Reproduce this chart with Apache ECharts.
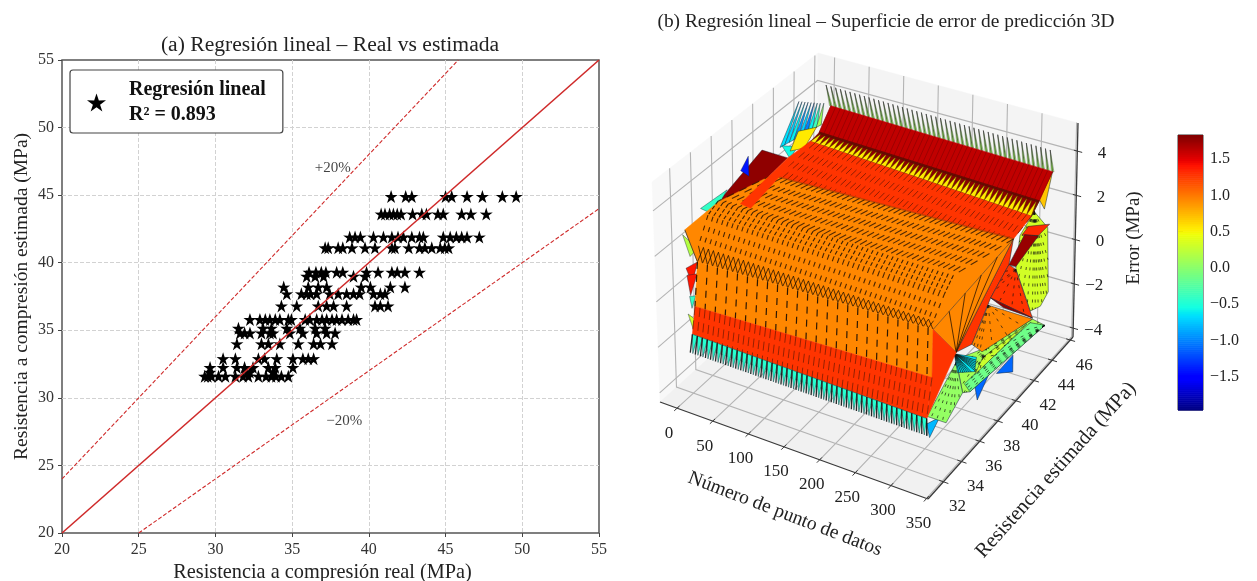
<!DOCTYPE html>
<html><head><meta charset="utf-8">
<style>html,body{margin:0;padding:0;background:#fff}#c{width:1257px;height:581px}#c canvas{filter:blur(.4px)}</style>
<script src="https://cdn.jsdelivr.net/npm/echarts@6/dist/echarts.min.js"></script>
</head><body><div id="c"></div>
<script>
const FONT='"Liberation Serif"';
// ---------- panel (a) data ----------
const idealLine=[[20,20],[55,55]];
const plus20Line=[[20,24],[45.83,55]];
const minus20Line=[[25,20],[55,44]];
const estimatedLevels=[44.9,43.6,41.9,41.1,39.3,39.0,38.2,37.7,36.8,35.8,35.15,34.8,34.0,32.9,32.25,31.9,31.6];
const realByLevel=[
[41.45,42.4,42.8,45.0,45.4,46.4,47.4,48.7,49.6],
[40.8,41.05,41.35,41.6,41.85,42.1,42.85,43.45,43.75,44.5,44.85,46.05,46.65,47.65],
[38.75,39.1,39.45,40.3,40.95,41.5,41.9,42.25,42.8,43.3,43.55,44.85,45.3,45.7,46.05,46.4,47.2],
[37.15,37.35,38.0,38.3,38.9,39.75,40.4,41.5,41.7,42.6,43.3,43.65,44.1,44.65,44.95,45.2],
[36.1,36.55,36.9,37.2,37.9,38.3,39.85,40.6,41.5,41.85,42.35,43.3],
[35.95,36.5,37.05,39.0,39.75],
[34.45,36.05,36.7,37.25,39.5,40.1,41.4,42.35],
[34.65,35.6,35.95,36.2,36.6,37.45,38,38.55,39,39.4,40.3,40.75,41.05],
[34.3,35.3,36.7,37.25,37.7,38.55,40.4,40.75,41.25],
[32.25,32.9,33.25,33.55,33.9,34.2,34.75,34.95,35.85,36.15,36.6,36.95,37.25,37.6,37.9,38.25,38.65,39,39.2],
[31.5,33.1,33.65,34.65,35.5,36.5,37.15],
[31.6,31.9,32.25,33,33.55,33.75,34.85,35.7,36.6,37.25,37.8],
[31.4,33,33.45,34.2,35.4,36.4,36.85,37.6],
[30.5,31.3,32.8,33.2,34,35.05,35.7,36.05,36.4],
[29.65,30.5,31.4,31.9,32.45,33.45,33.9,35.05],
[29.65,32.05,32.25,33.75],
[29.3,29.5,29.75,30.2,30.65,31.3,31.8,32.15,32.8,33.3,33.65,33.95,34.3,34.75]
];
const starData=[];estimatedLevels.forEach((y,i)=>realByLevel[i].forEach(x=>starData.push([x,y])));
const STAR='path://M50 0L61.8 35.5L97.6 34.5L68 56L79.4 90.5L50 69L20.6 90.5L32 56L2.4 34.5L38.2 35.5Z';

// ---------- panel (b) data ----------
const xTicks3=[0,50,100,150,200,250,300,350];
const yTicks3=[32,34,36,38,40,42,44,46];
const zTicks3=[-4,-2,0,2,4];
const colorTicks=[-1.5,-1,-0.5,0,0.5,1,1.5];
const colorMin=-1.955,colorMax=1.83;
const meshX=[0,7,14,21,28,35,42,49,56,63,70,77,84,91,98,105,112,119,126,133,140,147,154,161,168,175,182,189,196,203,210,217,224,231,238,245,252,259,266,273,280,287,294,301,308,315,322,329];
// error-surface profile [estimated strength, error] at first and last data point
const profile={
 tip:[[45.5,4.3],[45.1,4.35]],
 top:[[46.0,3.15],[45.4,3.25]],
 topLow:[[44.85,2.35],[44,2.5]],
 ridge:[[44,2.28],[43.2,2.17]],
 fold:[[40.18,2.19],[41.3,1.95]],
 stripeA:[[34.9,3.0],[34.9,2.95]],
 stripeB:[[33.9,2.75],[34.0,2.55]],
 edge:[[31.63,2.93],[32.6,2.1]],
 hatch:[[32.9,1.76],[32.8,1.85]],
 lip:[[32.76,1.1],[32.75,1.5]],
 lower:[[32.4,-0.73],[32.6,-0.48]],
 cyanTop:[[32.06,-1.83],[32,-1.97]],
 cyanLow:[[31.8,-2.54],[32,-2.7]]
};
const bandError={tip:0.1,top:1.62,gap:1.8,yellow:0.55,ridge:1.28,main:0.95,lower:0.95,red:1.28,cyan:-0.45};
const lastPoint=329;
// loose facets behind the surface's far end: e = error colour, p = [data point, strength, error]
const farFacets=[
 {e:-0.8,p:[[329,32,-2.2],[329,33.4,-2.5],[329,32.3,-2.9]]},
 {e:-1.1,p:[[329,39.6,-3.25],[329,41.4,-3.23],[329,41.4,-3.97]]},
 {e:-1.1,p:[[329,37.2,-2.7],[329,38.9,-2.87],[329,37.5,-3.5]]},
 {e:0.12,p:[[329,38.5,-1.64],[329,43.5,-2.55],[329,44.9,-3.45],[329,36.7,-2.8],[329,35.9,-2.5],[329,35.2,-0.77]],dash:1},
 {e:-0.12,p:[[329,44.9,-3.45],[329,43.25,-2.6],[329,38.3,-2.3],[329,36.1,-2.2],[329,36.7,-2.8]],dash:1},
 {e:0.3,p:[[329,38.1,-1.9],[329,42.9,-2.5],[329,40,-2.4],[329,37.2,-2.28]],dash:1},
 {e:0.05,p:[[329,35.2,-0.9],[329,35.9,-2.5],[329,34.1,-3.03],[329,32.05,-1.9]],dash:1},
 {e:-0.62,p:[[329,35,-0.45],[329,37.4,-1.6],[329,37.2,-2.14],[329,35.35,-1.4]],dash:2},
 {e:0.33,p:[[329,43.5,2.25],[329,45.0,0.9],[329,45.2,-2.07],[329,44.35,-2.35],[329,43.25,-2.08],[329,41.6,0.5],[329,42,1.8]],dash:1},
 {e:1.32,p:[[329,45.2,0.97],[329,44,0.97],[329,42.2,1.74],[329,42.9,1.84]]},
 {e:1.75,p:[[329,42.5,1.64],[329,44,0.95],[329,41.6,0.6],[329,40.85,1.0]]},
 {e:1.28,p:[[329,41.3,1.95],[329,40.85,1.0],[329,38.9,0.35],[329,36.9,-0.83],[329,35.2,-0.47]]},
 {e:0.95,p:[[329,38.65,0.14],[329,43.5,-2.55],[329,38,-1.62],[329,36.9,-0.83]],dash:1},
 {e:1.28,p:[[329,41.6,0.47],[329,43.5,-2.5],[329,38.9,0.35],[329,40.85,1.0]],dash:1},
 {e:1.78,p:[[329,38.9,0.35],[329,43.5,-2.5],[329,40.3,-0.66]]},
 {e:0.7,p:[[329,44,2.6],[329,45.4,3.25],[329,44.6,1.9]]}
];
const nearFacets=[
 {e:1.78,p:[[0,39.24,3.68],[0,41.76,2.38],[0,37.07,2.08],[0,34.94,2.96]]},
 {e:-0.55,p:[[0,41.2,3.14],[0,42.8,2.5],[0,41.95,2.3]]},
 {e:-0.4,p:[[0,33.2,3.3],[0,35.8,3.17],[0,34.4,2.6]]},
 {e:-1.4,p:[[0,37.15,3.53],[0,37.9,3.9],[0,37.95,2.98]]},
 {e:0.2,p:[[0,31.4,2.8],[0,32.06,1.6],[0,32.8,1.67]]},
 {e:1.4,p:[[0,31.63,1.24],[0,32.76,1.1],[0,32.2,0.35]]},
 {e:1.4,p:[[0,31.7,0.9],[0,32.7,0.6],[0,32.0,-0.1]]},
 {e:-0.4,p:[[0,31.9,-0.1],[0,32.5,-0.3],[0,32.1,-0.7]]},
 {e:0.3,p:[[0,31.7,-0.8],[0,32.4,-1.3],[0,32.15,-1.62]]}
];
const redWedge=[[0,41.76,2.38],[0,44,2.28],[0,40.68,1.81],[0,38.07,1.5],[0,37.07,2.08]];
const yellowPatch=[[0,42.8,3.2],[0,44.6,2.7],[0,43.4,2.2],[0,42,2.6]];
const needleBaseY=[41,41.45,41.9,42.35,42.8,43.25,43.7,44.15,44.57];
const needleBaseE=[3.14,3.09,3.03,2.98,2.92,2.87,2.81,2.76,2.7];
const needleTipY=[42.85,43.15,43.45,43.75,44.05,44.35,44.65,44.95,45.3];
const needleTipE=[4.54,4.42,4.29,4.17,4.04,3.92,3.79,3.67,3.54];
const needleColour=[-0.65,-0.7,-0.6,-0.9,-0.7,-1.0,-0.6,-0.35,0.1];

// ---------- 3D view ----------
const box={x:[-24,352],y:[30.3,46.3],z:[-4.4,5.27]};
const view={ // screen plane position of the box corners
 c000:[660,402],c100:[928,499],c110:[1073,337],c010:[815,262],
 c001:[652,182],c101:[926,268],c111:[1078,123],c011:[818,53]
};
function project(x,y,z){
 const u=(x-box.x[0])/(box.x[1]-box.x[0]),v=(y-box.y[0])/(box.y[1]-box.y[0]),w=(z-box.z[0])/(box.z[1]-box.z[0]);
 const out=[0,0];
 for(let k=0;k<2;k++){
  const b=(1-u)*(1-v)*view.c000[k]+u*(1-v)*view.c100[k]+u*v*view.c110[k]+(1-u)*v*view.c010[k];
  const t=(1-u)*(1-v)*view.c001[k]+u*(1-v)*view.c101[k]+u*v*view.c111[k]+(1-u)*v*view.c011[k];
  out[k]=b*(1-w)+t*w;
 }
 return out;
}
function lerp(a,b,t){return a+(b-a)*t}
function jet(e){
 const f=Math.min(1,Math.max(0,(e-colorMin)/(colorMax-colorMin)));
 const seg=(p)=>{for(let i=0;i<p.length-1;i++){if(f<=p[i+1][0])return lerp(p[i][1],p[i+1][1],(f-p[i][0])/(p[i+1][0]-p[i][0]))}return p[p.length-1][1]};
 const r=seg([[0,0],[.35,0],[.66,1],[.89,1],[1,.5]]);
 const g=seg([[0,0],[.125,0],[.375,1],[.64,1],[.91,0],[1,0]]);
 const b=seg([[0,.5],[.11,1],[.34,1],[.65,0],[1,0]]);
 return 'rgb('+Math.round(r*255)+','+Math.round(g*255)+','+Math.round(b*255)+')';
}
function P(name,x){const t=x/lastPoint,p=profile[name];return [x,lerp(p[0][0],p[1][0],t),lerp(p[0][1],p[1][1],t)]}
const scene=[];
function poly(pts,fill,o){scene.push(Object.assign({k:'poly',pts,fill},o||{}))}
function line(pts,stroke,lw,dash,op){scene.push({k:'line',pts,stroke,lw,dash,op})}
function text(p,str,dx,dy,o){scene.push(Object.assign({k:'text',p,str,dx,dy},o||{}))}
function band(a,b,e,o){poly([P(a,0),P(a,lastPoint),P(b,lastPoint),P(b,0)],jet(e),o)}
function rungs(a,b,step,stroke,lw,dash,op){meshX.forEach((x,i)=>{if(i%step===0)line([P(a,x),P(b,x)],stroke,lw,dash,op)})}
function cross(a,b,stroke,lw,op){meshX.forEach((x,i)=>{if(i>=meshX.length-1)return;line([P(a,x),P(b,x+7)],stroke,lw,null,op);line([P(a,x+7),P(b,x)],stroke,lw,null,op)})}
function facet(f,lw){poly(f.p,jet(f.e),{stroke:'#123',lw:lw||.5});
 if(f.dash){const c=f.p[0],n=f.p.length,st=f.dash===2?.12:.3,da=f.dash===2?null:[3,5];for(let i=1;i<n-1;i++){const q=f.p[i],r=f.p[i+1];for(let s=.2;s<1;s+=st){line([c,[lerp(q[0],r[0],s),lerp(q[1],r[1],s),lerp(q[2],r[2],s)]],'#111',.8,da,.85)}}}
}
// walls, floor
const X=box.x,Y=box.y,Z=box.z;
poly([[X[0],Y[0],Z[0]],[X[0],Y[1],Z[0]],[X[0],Y[1],Z[1]],[X[0],Y[0],Z[1]]],'#f8f8f8');
poly([[X[0],Y[1],Z[0]],[X[1],Y[1],Z[0]],[X[1],Y[1],Z[1]],[X[0],Y[1],Z[1]]],'#f4f4f4');
poly([[X[0],Y[0],Z[0]],[X[1],Y[0],Z[0]],[X[1],Y[1],Z[0]],[X[0],Y[1],Z[0]]],'#f1f1f1');
const GR='#b4b4b4';
xTicks3.forEach(x=>{line([[x,Y[0],Z[0]],[x,Y[1],Z[0]],[x,Y[1],Z[1]]],GR,1.1)});
yTicks3.forEach(y=>{line([[X[1],y,Z[0]],[X[0],y,Z[0]],[X[0],y,Z[1]]],GR,1.1)});
zTicks3.forEach(z=>{line([[X[0],Y[0],z],[X[0],Y[1],z],[X[1],Y[1],z]],GR,1.1)});
// axes
const AX='#3a3a3a';
line([[X[0],Y[0],Z[0]],[X[1],Y[0],Z[0]]],AX,1.3);
line([[X[1],Y[0],Z[0]],[X[1],Y[1],Z[0]]],AX,1.3);
line([[X[1],Y[1],Z[0]],[X[1],Y[1],Z[1]]],AX,1.3);
xTicks3.forEach(x=>{line([[x,Y[0]+.25,Z[0]],[x,Y[0]-.3,Z[0]]],AX,1);text([x,Y[0],Z[0]],String(x),-8,25)});
yTicks3.forEach(y=>{line([[X[1]-6,y,Z[0]],[X[1]+7,y,Z[0]]],AX,1);text([X[1],y,Z[0]],String(y),14,25)});
zTicks3.forEach(z=>{line([[X[1]-5,Y[1],z],[X[1]+7,Y[1],z]],AX,1);text([X[1],Y[1],z],String(z).replace('-','\u2212'),29,2,{align:'right'})});
// surface, back to front
farFacets.forEach(f=>facet(f));
needleBaseY.forEach((y,i)=>{poly([[0,y,needleBaseE[i]],[0,needleTipY[i],needleTipE[i]],[0,y+.5,needleBaseE[i]-.06]],jet(needleColour[i]),{stroke:'#234',lw:.5})});
nearFacets.forEach(f=>facet(f,.4));
poly(yellowPatch,jet(bandError.yellow),{stroke:'#3a2a00',lw:.5});
meshX.forEach(x=>{const a=P('top',x),b=P('tip',x);poly([[x-2,a[1],a[2]],[x,b[1],b[2]],[x+2,a[1],a[2]]],jet(bandError.tip),{stroke:'#666',lw:.5});line([a,b],'#333',.8,null,.9)});
band('top','topLow',bandError.top);
rungs('top','topLow',1,'#7a0000',1,null,.5);
band('topLow','ridge',bandError.gap);
meshX.forEach((x,i)=>{const x2=meshX[i+1]===undefined?x:meshX[i+1];
 poly([P('ridge',x),P('topLow',(x+x2)/2),P('ridge',x2)],jet(bandError.yellow),{stroke:'#4a3000',lw:.5});});
line([P('topLow',0),P('topLow',lastPoint)],'#5a0a00',2.4,null,.8);
band('ridge','fold',bandError.ridge);
rungs('ridge','fold',1,'#6b1500',1,[8,6],.75);
poly([P('fold',0),P('fold',lastPoint),P('lip',lastPoint),P('lip',0),P('edge',0),[0,34.94,2.96]],jet(bandError.main));
poly([P('fold',lastPoint),[lastPoint,35.2,-0.47],P('lip',lastPoint)],jet(bandError.main),{stroke:'#222',lw:.5});
[.2,.4,.6,.8].forEach(t=>{const g=P('fold',lastPoint),l=P('lip',lastPoint),q=[lastPoint,35.2,-0.47];const m=[q[0],lerp(l[1],g[1],t),lerp(l[2],g[2],t)];line([m,q],'#2b1500',1,null,.8)});
line([P('fold',0),P('fold',lastPoint)],'#a03000',1.6,null,.6);
rungs('fold','stripeA',1,'#2a1400',1.1,[8,6],.8);
rungs('stripeA','stripeB',1,'#1a0d00',1.1,[4,2],.85);
rungs('stripeB','hatch',1,'#2a1400',1.1,[5,6],.85);
poly(redWedge,jet(bandError.ridge));
cross('hatch','lip','#140a00',.9,.8);
line([P('edge',0),P('lip',0)],'#333',.8);
band('lip','lower',bandError.lower);
rungs('lip','lower',2,'#1a0d00',1.2,[7,6],.9);
poly([P('lower',lastPoint),P('cyanTop',lastPoint),[lastPoint,35.2,-0.47],P('lip',lastPoint)],jet(bandError.red));
band('lower','cyanTop',bandError.red);
rungs('lower','cyanTop',1,'#401000',1,[9,5],.55);
meshX.forEach((x,i)=>{const x2=meshX[i+1]===undefined?x:meshX[i+1];
 poly([P('cyanTop',x),P('cyanLow',(x+x2)/2),P('cyanTop',x2)],jet(bandError.cyan),{stroke:'#0a3a40',lw:.5});
 line([P('cyanTop',x),P('cyanLow',x)],'#111',1.3,null,.9);
});

const option={
 animation:false,backgroundColor:'#fff',
 textStyle:{fontFamily:FONT},
 title:[
  {text:'(a) Regresi\u00f3n lineal \u2013 Real vs estimada',left:325,top:29,textAlign:'center',textStyle:{fontFamily:FONT,fontWeight:'normal',fontSize:21.6,color:'#222'}},
  {text:'(b) Regresi\u00f3n lineal \u2013 Superficie de error de predicci\u00f3n 3D',left:881,top:7,textAlign:'center',textStyle:{fontFamily:FONT,fontWeight:'normal',fontSize:19.4,color:'#222'}}
 ],
 legend:{show:true,left:70,top:70,data:[{name:'Regresi\u00f3n lineal',icon:STAR,itemStyle:{color:'#000'}}],orient:'horizontal',
  formatter:()=>'Regresi\u00f3n lineal\nR\u00b2 = 0.893',
  padding:[8,17,6,17],itemWidth:19,itemHeight:19,borderColor:'#444',borderWidth:1.2,borderRadius:3,backgroundColor:'#fff',z:20,
  selectedMode:false,
  textStyle:{fontFamily:FONT,fontWeight:'bold',fontSize:20,lineHeight:24.5,color:'#111',padding:[0,0,0,18]}},
 grid:[
  {left:62,top:60,right:658,bottom:48,show:true,borderColor:'#555',borderWidth:1.5,backgroundColor:'transparent',outerBoundsMode:'none'},
  {left:0,top:0,right:0,bottom:0,outerBoundsMode:'none'},
  {left:1178,top:135,width:25,height:275,show:true,borderColor:'#333',borderWidth:1,outerBoundsMode:'none'}
 ],
 xAxis:[
  {gridIndex:0,type:'value',min:20,max:55,interval:5,name:'Resistencia a compresi\u00f3n real (MPa)',nameLocation:'middle',nameGap:29,
   nameTextStyle:{fontFamily:FONT,fontSize:20.3,color:'#222',padding:[0,16,0,0]},
   axisLine:{show:false},axisTick:{show:true,length:4,lineStyle:{color:'#444'}},axisLabel:{fontFamily:FONT,fontSize:16,color:'#333',margin:9},
   splitLine:{show:true,showMinLine:false,showMaxLine:false,lineStyle:{type:'dashed',color:'#d2d2d2',width:1}}},
  {gridIndex:1,type:'value',min:0,max:1257,show:false},
  {gridIndex:2,type:'value',min:0,max:1,show:false}
 ],
 yAxis:[
  {gridIndex:0,type:'value',min:20,max:55,interval:5,name:'Resistencia a compresi\u00f3n estimada (MPa)',nameLocation:'middle',nameGap:30,
   nameTextStyle:{fontFamily:FONT,fontSize:19.5,color:'#222'},
   axisLine:{show:false},axisTick:{show:true,length:4,lineStyle:{color:'#444'}},axisLabel:{fontFamily:FONT,fontSize:16,color:'#333',margin:8},
   splitLine:{show:true,showMinLine:false,showMaxLine:false,lineStyle:{type:'dashed',color:'#d2d2d2',width:1}}},
  {gridIndex:1,type:'value',min:0,max:581,inverse:true,show:false},
  {gridIndex:2,type:'value',min:colorMin,max:colorMax,position:'right',
   axisLine:{show:false},splitLine:{show:false},
   axisTick:{show:true,length:5,lineStyle:{color:'#333'},customValues:colorTicks},
   axisLabel:{fontFamily:FONT,fontSize:16,color:'#222',margin:7,customValues:colorTicks,formatter:v=>v.toFixed(1).replace('-','\u2212')}}
 ],
 series:[
  {type:'scatter',name:'Regresi\u00f3n lineal',xAxisIndex:0,yAxisIndex:0,data:starData,symbol:STAR,symbolSize:13,itemStyle:{color:'#000',opacity:1},z:3,silent:true},
  {type:'line',name:'ideal',xAxisIndex:0,yAxisIndex:0,data:idealLine,showSymbol:false,lineStyle:{color:'#cf2a2a',width:1.6},z:4,silent:true},
  {type:'line',name:'+20%',xAxisIndex:0,yAxisIndex:0,data:plus20Line,showSymbol:false,lineStyle:{color:'#cf2a2a',width:1.1,type:[4,2]},z:4,silent:true},
  {type:'line',name:'-20%',xAxisIndex:0,yAxisIndex:0,data:minus20Line,showSymbol:false,lineStyle:{color:'#cf2a2a',width:1.1,type:[4,2]},z:4,silent:true},
  {type:'scatter',name:'notes',xAxisIndex:0,yAxisIndex:0,symbolSize:0,silent:true,
   data:[{value:[37.65,47.0],label:{formatter:'+20%'}},{value:[38.4,28.3],label:{formatter:'\u221220%'}}],
   label:{show:true,position:'inside',fontFamily:FONT,fontSize:15,color:'#111'}},
  {type:'custom',name:'surface',xAxisIndex:1,yAxisIndex:1,clip:false,silent:true,z:2,
   data:scene.map((m,i)=>[i,i]),encode:{x:0,y:1},
   renderItem:(params,api)=>{
    const m=scene[params.dataIndex];
    if(m.k==='text'){
     const q=api.coord(project.apply(null,m.p));
     return {type:'text',x:q[0]+m.dx,y:q[1]+m.dy,style:{text:m.str,font:'17px '+FONT,fill:'#222',align:m.align||'center',verticalAlign:'middle'}};
    }
    const pts=m.pts.map(p=>api.coord(project(p[0],p[1],p[2])));
    if(m.k==='line')return {type:'polyline',shape:{points:pts},style:{fill:'none',stroke:m.stroke,lineWidth:m.lw,lineDash:m.dash||null,opacity:m.op===undefined?1:m.op}};
    return {type:'polygon',shape:{points:pts},style:{fill:m.fill,stroke:m.stroke||m.fill,lineWidth:m.lw||.5,lineJoin:'round'}};
   }},
  {type:'custom',name:'colorbar',xAxisIndex:2,yAxisIndex:2,silent:true,
   data:Array.from({length:140},(_,i)=>[i]),encode:{y:0},
   renderItem:(params,api)=>{
    const i=params.dataIndex,st=(colorMax-colorMin)/140;
    const a=api.coord([0,colorMin+i*st]),b=api.coord([1,colorMin+(i+1)*st]);
    const c=jet(colorMin+(i+.5)*st);
    return {type:'rect',shape:{x:a[0],y:b[1],width:b[0]-a[0],height:a[1]-b[1]+.6},style:{fill:c}};
   }}
 ],
 graphic:[
  {type:'text',x:785,y:514,rotation:-21*Math.PI/180,style:{text:'N\u00famero de punto de datos',font:'19.5px '+FONT,fill:'#222',align:'center',verticalAlign:'middle'}},
  {type:'text',x:1056,y:470,rotation:48*Math.PI/180,style:{text:'Resistencia estimada (MPa)',font:'20.5px '+FONT,fill:'#222',align:'center',verticalAlign:'middle'}},
  {type:'text',x:1134,y:238,rotation:Math.PI/2,style:{text:'Error (MPa)',font:'19px '+FONT,fill:'#222',align:'center',verticalAlign:'middle'}}
 ]
};
echarts.init(document.getElementById('c'),null,{renderer:'canvas'}).setOption(option);
</script></body></html>
